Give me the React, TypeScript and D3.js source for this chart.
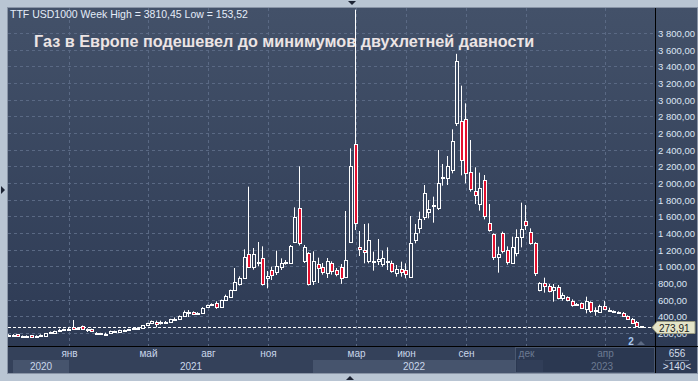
import React from "react";
import * as d3 from "d3";

const opens = [160,178,184,166,166,172,164,176,170,208,198,232,242,248,268,250,284,246,246,206,198,190,196,218,208,234,242,252,258,258,292,316,336,330,332,334,370,370,404,446,452,438,436,516,536,556,516,596,628,716,784,856,1148,996,1040,1096,860,956,928,996,1056,1036,1296,1696,1068,1156,824,1024,996,916,1036,956,988,868,1296,2464,1236,1196,1068,1060,1064,1028,1068,1036,916,964,956,876,1316,1456,1596,1648,1724,1696,2064,2056,2156,2716,2750,2772,2136,1908,1744,2040,1516,1388,1108,1396,1196,1036,1156,1348,1540,1416,1276,716,796,768,716,756,616,628,580,552,556,484,576,474,448,524,472,466,448,444,404,368,336,280];
const highs = [186,186,188,170,172,176,172,184,200,218,228,252,252,264,356,270,290,256,252,210,202,204,228,228,240,242,250,262,270,296,322,350,348,348,344,370,386,410,470,476,460,450,510,540,556,580,600,660,720,980,880,1204,1956,1220,1292,1240,944,996,1188,1096,1076,1256,1708,2200,1256,1170,1180,1104,1040,1100,1060,980,1028,1664,2416,4080,1424,1508,1516,1176,1328,1188,1228,1068,1016,1056,1036,1604,1508,1656,1976,1796,1836,2396,2228,2324,2644,3550,3168,2956,2516,2188,2124,2096,1748,1396,1236,1416,1240,1356,1444,1764,1736,1456,1290,810,864,788,788,776,684,640,604,560,566,636,580,508,540,584,504,472,460,452,412,380,344,284];
const lows = [156,174,156,160,162,153.52,160,172,166,204,194,224,236,236,238,240,248,212,214,196,190,180,192,212,204,228,236,246,252,254,288,310,268,300,326,330,362,366,400,392,420,430,430,504,530,490,500,590,620,704,770,850,980,960,1000,770,736,836,896,956,1020,1030,1280,1250,1040,770,776,800,900,860,900,880,790,860,1280,1436,1124,1036,1036,948,1016,996,956,924,876,876,856,860,1276,1396,1556,1576,1524,1676,1968,1976,2116,2684,2092,1996,1896,1748,1668,1564,1416,1076,924,1156,1020,1030,1120,1228,1436,1260,884,700,684,688,576,604,588,580,516,536,488,436,440,408,440,476,456,448,430,396,356,316,276,268];
const closes = [180,182,160,164,170,156,168,180,196,212,224,236,246,252,246,262,254,242,222,204,196,194,224,222,236,238,246,256,262,292,316,344,308,334,336,364,374,404,452,450,428,442,504,532,544,508,596,644,716,812,856,1108,996,1148,1048,784,884,892,1004,1036,1036,1244,1588,1276,1228,784,1064,976,928,1064,948,904,856,1076,2208,1516,1204,1168,1316,1068,1088,1096,1062,948,972,932,908,1276,1396,1568,1876,1684,1736,2004,2072,2200,2500,3460,2276,2116,1924,1856,1936,1604,1440,1116,1144,1180,1048,1228,1348,1444,1496,1276,916,796,764,704,748,616,656,596,532,546,496,588,468,478,524,484,466,462,442,400,364,324,284,273.91];

const monthLabels = ["янв","май","авг","ноя","мар","июн","сен","дек","апр"];
const monthIndex = [13,30,43,56,75,86,99,112,129];
const monthDim = [false,false,false,false,false,false,false,true,true];
const yearLabels = ["2020","2021","2022","2023"];
const yTicks = [200,400,600,800,1000,1200,1400,1600,1800,2000,2200,2400,2600,2800,3000,3200,3400,3600,3800];
const lastPrice = 273.91;
const title = "Газ в Европе подешевел до минимумов двухлетней давности";
const header = "TTF USD1000 Week High = 3810,45 Low = 153,52";

const fmt = (v: number) => {
  const s = v.toFixed(2).replace(".", ",");
  const [a, b] = s.split(",");
  const ai = a.length > 3 ? a.slice(0, a.length - 3) + " " + a.slice(a.length - 3) : a;
  return ai + "," + b;
};

export default function App() {
  const W = 698, H = 381;
  const L = 8, T = 8, PR = 655, PB = 346, AB = 373;
  const y = d3.scaleLinear().domain([44, 4100]).range([PB, T]);
  const x = d3.scaleLinear().domain([0, opens.length - 1]).range([9, 642]);
  const font = "'Liberation Sans', Arial, sans-serif";
  const gx = (i: number) => Math.round(x(i)) + 0.5;
  const yearBounds = [13, gx(13) - 0.5, 313, 515, PR];
  const priceY = Math.round(y(lastPrice)) + 0.5;

  return (
    <svg width={W} height={H} style={{ position: "absolute", left: 0, top: 0 }}>
      <defs>
        <linearGradient id="bg" gradientUnits="userSpaceOnUse" x1="0" y1={T} x2="0" y2={PB}>
          <stop offset="0" stopColor="#435169" />
          <stop offset="1" stopColor="#2d3a54" />
        </linearGradient>
        <clipPath id="plot">
          <rect x={L} y={T} width={PR - L} height={PB - T} />
        </clipPath>
        <clipPath id="belowTag">
          <rect x={PR} y={priceY + 6.5} width={W - PR} height={PB - priceY} />
        </clipPath>
      </defs>
      <rect x={0} y={0} width={W} height={H} fill="#b9c5d3" />
      <rect x={L - 0.5} y={T - 0.5} width={W - L} height={AB - T + 1} fill="url(#bg)" stroke="#8994a6" />
      {yTicks.map((t) => (
        <line key={"h" + t} x1={L} x2={PR} y1={Math.round(y(t)) + 0.5} y2={Math.round(y(t)) + 0.5}
          stroke="#5a6984" strokeDasharray="3,3" />
      ))}
      {monthIndex.map((m) => (
        <line key={"v" + m} x1={gx(m)} x2={gx(m)} y1={T} y2={PB} stroke="#5a6984" strokeDasharray="3,3" />
      ))}
      <text x={10} y={18} fontFamily={font} fontSize={10.5} fill="#e4ecf8">{header}</text>
      <text x={34} y={47} fontFamily={font} fontSize={16.2} fontWeight="bold" fill="#ece4e4">{title}</text>
      <line x1={L} x2={PR} y1={priceY} y2={priceY} stroke="#ffffff" strokeDasharray="3,2" />
      <g clipPath="url(#plot)">
        {opens.map((o, i) => {
          const c = closes[i];
          const cx = Math.round(x(i));
          const up = c >= o;
          const yt = Math.round(y(Math.max(o, c)));
          const yb = Math.round(y(Math.min(o, c)));
          const h = Math.max(yb - yt, 1);
          return (
            <g key={i}>
              <line x1={cx - 0.5} x2={cx - 0.5} y1={y(highs[i])} y2={y(lows[i])} stroke="#ffffff" />
              <rect x={cx - 1.5} y={yt + 0.5} width={3} height={h} fill={up ? "url(#bg)" : "#e3102e"}
                stroke="#ffffff" strokeWidth={1} />
            </g>
          );
        })}
      </g>
      <line x1={L} x2={W} y1={PB + 0.5} y2={PB + 0.5} stroke="#000" />
      <line x1={PR + 0.5} x2={PR + 0.5} y1={T} y2={AB} stroke="#000" />
      <rect x={L} y={PB + 1} width={PR - L} height={AB - PB - 1} fill="#34415a" />
      <rect x={yearBounds[0]} y={360} width={yearBounds[1] - yearBounds[0]} height={13} fill="#46546d" />
      <rect x={yearBounds[2]} y={360} width={yearBounds[3] - yearBounds[2]} height={13} fill="#46546d" />
      <rect x={yearBounds[3] + 0.5} y={PB + 1.5} width={PR - yearBounds[3] - 1} height={AB - PB - 2} fill="#2b3851" stroke="#4a5870" />
      <rect x={yearBounds[3] + 2} y={360} width={26} height={12} fill="#313e58" />
      {monthLabels.map((m, k) => (
        <text key={m} x={gx(monthIndex[k])} y={357} textAnchor="middle" fontFamily={font} fontSize={10}
          fill={monthDim[k] ? "#6c7a92" : "#c9d6ea"}>{m}</text>
      ))}
      {yearLabels.map((yl, k) => (
        <text key={yl} x={(yearBounds[k] + yearBounds[k + 1]) / 2 + (k === 3 ? 17 : 0)} y={370} textAnchor="middle"
          fontFamily={font} fontSize={10} fill={k === 3 ? "#6c7a92" : "#c9d6ea"}>{yl}</text>
      ))}
      {yTicks.map((t) => (
        <text key={"l" + t} x={658} y={Math.round(y(t)) + 4} fontFamily={font} fontSize={9.5} fill="#dde6f4"
          clipPath={Math.abs(y(t) - priceY) < 8 ? "url(#belowTag)" : undefined}>{fmt(t)}</text>
      ))}
      <path d={`M${652},${priceY} L${657},${priceY - 6} L${695},${priceY - 6} L${695},${priceY + 6} L${657},${priceY + 6} Z`}
        fill="#e4e4c8" stroke="#9a9a80" />
      <text x={659} y={priceY + 4} fontFamily={font} fontSize={10} fill="#1a1a1a">{fmt(lastPrice)}</text>
      <text x={677} y={357} textAnchor="middle" fontFamily={font} fontSize={10} fill="#d4deec">656</text>
      <line x1={665} x2={689} y1={360.5} y2={360.5} stroke="#6c7a92" />
      <text x={677} y={370} textAnchor="middle" fontFamily={font} fontSize={10} fill="#d4deec">{">140<"}</text>
      <text x={631} y={345} textAnchor="middle" fontFamily={font} fontSize={10} fontWeight="bold" fill="#a9c8ee">2</text>
      <path d="M637,345 L641,341 L645,345 Z" fill="#5d6b84" />
      <path d="M348,1 L356,1 L352,5 Z" fill="#1c2333" />
      <path d="M1,186 L1,194 L5,190 Z" fill="#1c2333" />
      <path d="M346,380 L354,380 L350,376 Z" fill="#1c2333" />
    </svg>
  );
}
